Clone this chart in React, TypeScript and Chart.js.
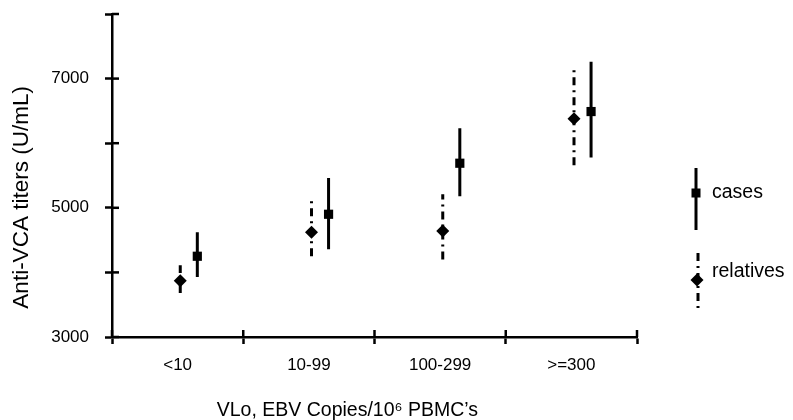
import React, { useEffect, useRef } from 'react';
import { Chart, registerables } from 'chart.js';

Chart.register(...registerables);

// ---- data ----
const categories = ['<10', '10-99', '100-299', '>=300'];
const casesMean = [4250, 4900, 5690, 6490];
const casesLow = [3930, 4360, 5180, 5780];
const casesHigh = [4620, 5460, 6230, 7260];
const relativesMean = [3870, 4620, 4640, 6380];
const relativesLow = [3680, 4250, 4200, 5660];
const relativesHigh = [4110, 5130, 5210, 7170];
const yTickLabels = [3000, 5000, 7000];

// ---- style ----
const FONT = "'Liberation Sans', Arial, Helvetica, sans-serif";
const REL_OFFSET = 0.02;
const CASE_OFFSET = 0.15;
const REL_DASH = [8, 5, 2, 5];
const LINE_W = 3;
const AXIS_W = 2.5;
const TICK_LEN = 7;

function meanPoints(means: number[], offset: number) {
  return means.map((v, i) => ({ x: i + 0.5 + offset, y: v }));
}

function errorBarPoints(low: number[], high: number[], offset: number) {
  const pts: { x: number; y: number | null }[] = [];
  low.forEach((lo, i) => {
    const x = i + 0.5 + offset;
    pts.push({ x, y: lo }, { x, y: high[i] }, { x, y: null });
  });
  return pts;
}

const crossTicksPlugin = {
  id: 'crossTicks',
  afterDraw(chart: any) {
    const { ctx, chartArea, scales } = chart;
    ctx.save();
    ctx.strokeStyle = '#000';
    ctx.lineWidth = AXIS_W;
    scales.x.ticks.forEach((t: any) => {
      if (!Number.isInteger(t.value)) return;
      const px = scales.x.getPixelForValue(t.value);
      ctx.beginPath();
      ctx.moveTo(px, chartArea.bottom);
      ctx.lineTo(px, chartArea.bottom - TICK_LEN);
      ctx.stroke();
    });
    scales.y.ticks.forEach((t: any) => {
      const py = scales.y.getPixelForValue(t.value);
      ctx.beginPath();
      ctx.moveTo(chartArea.left, py);
      ctx.lineTo(chartArea.left + TICK_LEN, py);
      ctx.stroke();
    });
    ctx.restore();
  },
};

const legendPlugin = {
  id: 'customLegend',
  afterDraw(chart: any) {
    const { ctx } = chart;
    ctx.save();
    ctx.fillStyle = '#000';
    ctx.strokeStyle = '#000';
    ctx.lineWidth = LINE_W;
    // cases
    ctx.beginPath();
    ctx.moveTo(696, 168);
    ctx.lineTo(696, 230);
    ctx.stroke();
    ctx.fillRect(696 - 4.5, 193 - 4.5, 9, 9);
    // relatives
    ctx.setLineDash(REL_DASH);
    ctx.beginPath();
    ctx.moveTo(698, 253);
    ctx.lineTo(698, 313);
    ctx.stroke();
    ctx.setLineDash([]);
    ctx.beginPath();
    ctx.moveTo(697 - 6.5, 280);
    ctx.lineTo(697, 280 - 6.5);
    ctx.lineTo(697 + 6.5, 280);
    ctx.lineTo(697, 280 + 6.5);
    ctx.closePath();
    ctx.fill();
    ctx.font = `19.5px ${FONT}`;
    ctx.textAlign = 'left';
    ctx.textBaseline = 'middle';
    ctx.fillText('cases', 712, 193);
    ctx.fillText('relatives', 712, 272);
    ctx.restore();
  },
};

export default function App() {
  const canvasRef = useRef<HTMLCanvasElement | null>(null);

  useEffect(() => {
    if (!canvasRef.current) return;
    Chart.defaults.color = '#000';
    Chart.defaults.font.family = FONT;

    const chart = new Chart(canvasRef.current, {
      type: 'scatter',
      data: {
        datasets: [
          {
            label: 'cases',
            data: meanPoints(casesMean, CASE_OFFSET),
            pointStyle: 'rect',
            pointRadius: 6.5,
            backgroundColor: '#000',
            borderColor: '#000',
            borderWidth: 0,
            showLine: false,
            order: 0,
          },
          {
            label: 'relatives',
            data: meanPoints(relativesMean, REL_OFFSET),
            pointStyle: 'rectRot',
            pointRadius: 6.5,
            backgroundColor: '#000',
            borderColor: '#000',
            borderWidth: 0,
            showLine: false,
            order: 1,
          },
          {
            label: 'cases range',
            data: errorBarPoints(casesLow, casesHigh, CASE_OFFSET),
            showLine: true,
            spanGaps: false,
            pointRadius: 0,
            borderColor: '#000',
            borderWidth: LINE_W,
            order: 2,
          },
          {
            label: 'relatives range',
            data: errorBarPoints(relativesLow, relativesHigh, REL_OFFSET),
            showLine: true,
            spanGaps: false,
            pointRadius: 0,
            borderColor: '#000',
            borderWidth: LINE_W,
            borderDash: REL_DASH,
            order: 3,
          },
        ] as any,
      },
      options: {
        animation: false,
        responsive: false,
        events: [],
        layout: { padding: { top: 14, right: 156, left: 0, bottom: 0 } },
        plugins: {
          legend: { display: false },
          tooltip: { enabled: false },
        },
        scales: {
          x: {
            type: 'linear',
            min: 0,
            max: 4,
            afterBuildTicks: (scale: any) => {
              const t = [];
              for (let v = 0; v <= 4; v += 0.5) t.push({ value: v });
              scale.ticks = t;
            },
            afterFit: (scale: any) => {
              scale.height = 83;
              scale.paddingLeft = 0;
              scale.paddingRight = 0;
            },
            ticks: {
              autoSkip: false,
              maxRotation: 0,
              color: '#000',
              padding: 11,
              font: { size: 17, family: FONT },
              callback: (v: any) =>
                Number.isInteger(v) ? '' : categories[Math.floor(v)],
            },
            grid: {
              drawOnChartArea: false,
              drawTicks: true,
              tickLength: TICK_LEN,
              tickWidth: AXIS_W,
              tickColor: (ctx: any) =>
                ctx.tick && Number.isInteger(ctx.tick.value) ? '#000' : 'rgba(0,0,0,0)',
            },
            border: { display: true, color: '#000', width: AXIS_W },
            title: {
              display: true,
              text: 'VLo, EBV Copies/10\u2076 PBMC\u2019s          ',
              color: '#000',
              font: { size: 19.5, family: FONT, lineHeight: 1 },
              padding: { top: 0, bottom: 0 },
            },
          },
          y: {
            type: 'linear',
            min: 3000,
            max: 8000,
            afterFit: (scale: any) => {
              scale.width = 112;
              scale.paddingTop = 0;
              scale.paddingBottom = 0;
            },
            ticks: {
              stepSize: 1000,
              color: '#000',
              padding: 16,
              font: { size: 17, family: FONT },
              callback: (v: any) => (yTickLabels.includes(v) ? String(v) : ''),
            },
            grid: {
              drawOnChartArea: false,
              drawTicks: true,
              tickLength: TICK_LEN,
              tickWidth: AXIS_W,
              tickColor: '#000',
            },
            border: { display: true, color: '#000', width: AXIS_W },
            title: {
              display: true,
              text: 'Anti-VCA titers (U/mL)       ',
              color: '#000',
              font: { size: 22.5, family: FONT, lineHeight: 1 },
              padding: { top: 11, bottom: 0 },
            },
          },
        },
      } as any,
      plugins: [crossTicksPlugin, legendPlugin],
    });

    return () => chart.destroy();
  }, []);

  return (
    <div style={{ position: 'fixed', left: 0, top: 0, width: 793, height: 420, background: '#fff' }}>
      <canvas ref={canvasRef} width={793} height={420} style={{ width: 793, height: 420 }} />
    </div>
  );
}
